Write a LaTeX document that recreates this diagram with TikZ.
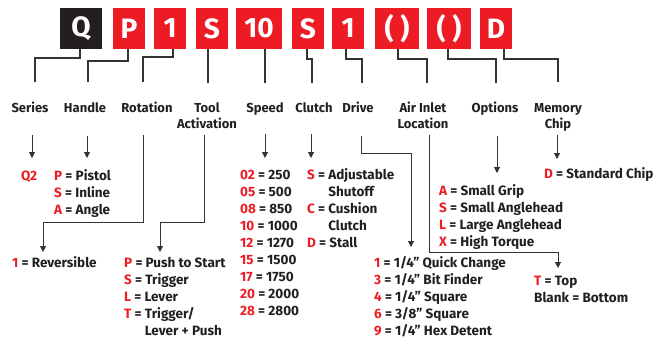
\documentclass[tikz,border=0pt]{standalone}
\usepackage{fontspec}
\setmainfont{Fira Sans}
\usetikzlibrary{arrows.meta,calc}
\definecolor{cred}{HTML}{ED1C24}
\definecolor{cblk}{HTML}{231F20}
\definecolor{cline}{HTML}{333333}
\newcommand\rd[1]{\textcolor{cred}{#1}}
\begin{document}
\begin{tikzpicture}[x=1pt,y=-1pt,
 box/.style={fill=cred, text=white, minimum height=41pt, inner sep=0pt, font=\bfseries\fontsize{28}{28}\selectfont},
 conn/.style={draw=cline, line width=1.2pt},
 arr/.style={draw=cline, line width=1pt, -{Triangle[width=6pt,length=6pt]}},
 lbl/.style={font=\bfseries\fontsize{13}{16}\selectfont, text=cblk, align=center, inner sep=0pt, anchor=base},
 lst/.style={font=\bfseries\fontsize{13.5}{17}\selectfont, text=cblk, align=left, inner sep=0pt, anchor=base west}]
\useasboundingbox (0,0) rectangle (654,341);
% code boxes
\node[box, fill=cblk, minimum width=42pt] (bQ) at (81,28.5) {Q};
\node[box, minimum width=32pt] (bP) at (129,28.5) {P};
\node[box, minimum width=32pt] (bR) at (170,28.5) {1};
\node[box, minimum width=32pt] (bT) at (212,28.5) {S};
\node[box, minimum width=46pt] (bSp) at (259,28.5) {10};
\node[box, minimum width=32pt] (bC) at (308,28.5) {S};
\node[box, minimum width=32pt] (bD) at (348,28.5) {1};
\node[box, minimum width=44pt] (bA) at (397,28.5) {( )};
\node[box, minimum width=44pt] (bO) at (449,28.5) {( )};
\node[box, minimum width=32pt] (bM) at (496,28.5) {D};
% label end points
\coordinate (tSeries) at (35,82);
\coordinate (tHandle) at (88,82);
\coordinate (tRot) at (143,82);
\coordinate (tTool) at (208,83);
\coordinate (tSpeed) at (265,83);
\coordinate (tClutch) at (312,83);
\coordinate (tDrive) at (362,83);
\coordinate (tAir) at (427,83);
\coordinate (tOpt) at (496,83);
\coordinate (tMem) at (558,82);
% connectors from boxes
\draw[conn] ([xshift=-1pt]bQ.south) |- (35,58) -- (tSeries);
\draw[conn] ([xshift=-1pt]bP.south) |- (88,61) -- (tHandle);
\draw[conn] ([xshift=3pt]bR.south) |- (143,57) -- (tRot);
\draw[conn] (bT.south -| tTool) -- (tTool);
\draw[conn] (bSp.south -| tSpeed) -- (tSpeed);
\draw[conn] ([xshift=-1pt]bC.south) |- (312,59) -- (tClutch);
\draw[conn] ([xshift=-2pt]bD.south) |- (362,59) -- (tDrive);
\draw[conn] ([xshift=1pt]bA.south) |- (427,59) -- (tAir);
\draw[conn] ([xshift=-1pt]bO.south) |- (496,59) -- (tOpt);
\draw[conn] ([xshift=8pt]bM.south) |- (558,59) -- (tMem);
% labels (anchor base = last line)
\node[lbl] (lSeries) at (30,112.5) {Series};
\node[lbl] (lHandle) at (85,112.5) {Handle};
\node[lbl] (lRot) at (147,112.5) {Rotation};
\node[lbl] (lTool) at (207,128.5) {Tool\\Activation};
\node[lbl] (lSpeed) at (265,112.5) {Speed};
\node[lbl] (lClutch) at (314,112.5) {Clutch};
\node[lbl] (lDrive) at (358,112.5) {Drive};
\node[lbl] (lAir) at (423,128.5) {Air Inlet\\Location};
\node[lbl] (lOpt) at (495,112.5) {Options};
\node[lbl] (lMem) at (558,128.5) {Memory\\Chip};
% value lists (anchor base = last line)
\node[lst] (vSeries) at (21,180.5) {\rd{Q2}};
\node[lst] (vHandle) at (54,214.5) {\rd{P} = Pistol\\\rd{S} = Inline\\\rd{A} = Angle};
\node[lst] (vRot) at (12,267.5) {\rd{1} = Reversible};
\node[lst] (vTool) at (124,335.5) {\rd{P} = Push to Start\\\rd{S} = Trigger\\\rd{L} = Lever\\\rd{T} = Trigger/\\\hphantom{\rd{T} = }Lever + Push};
\node[lst] (vSpeed) at (240,315.5) {\rd{02} = 250\\\rd{05} = 500\\\rd{08} = 850\\\rd{10} = 1000\\\rd{12} = 1270\\\rd{15} = 1500\\\rd{17} = 1750\\\rd{20} = 2000\\\rd{28} = 2800};
\node[lst] (vClutch) at (307,247.5) {\rd{S} = Adjustable\\\hphantom{\rd{S} = }Shutoff\\\rd{C} = Cushion\\\hphantom{\rd{C} = }Clutch\\\rd{D} = Stall};
\node[lst] (vDrive) at (374,335.5) {\rd{1} = 1/4” Quick Change\\\rd{3} = 1/4” Bit Finder\\\rd{4} = 1/4” Square\\\rd{6} = 3/8” Square\\\rd{9} = 1/4” Hex Detent};
\node[lst] (vOpt) at (439,246.5) {\rd{A} = Small Grip\\\rd{S} = Small Anglehead\\\rd{L} = Large Anglehead\\\rd{X} = High Torque};
\node[lst] (vMem) at (544,178.5) {\rd{D} = Standard Chip};
\node[lst] (vAir) at (534,302.5) {\rd{T} = Top\\Blank = Bottom};
% arrows
\draw[arr] (32,135) -- (32,158);
\draw[arr] (87,136) -- (87,158);
\draw[arr] (143,135) |- (43,222) -- (43,252);
\draw[arr] (204,135) |- (160,222) -- (160,252);
\draw[arr] (265,134) -- (265,158);
\draw[arr] (311,134) -- (311,158);
\draw[arr] (361,136) |- (411,153) -- (411,247);
\draw[arr] (429,135) |- (558,252) -- (558,268);
\draw[arr] (497,136) -- (497,173);
\draw[arr] (557,135) -- (557,159);
\end{tikzpicture}
\end{document}
